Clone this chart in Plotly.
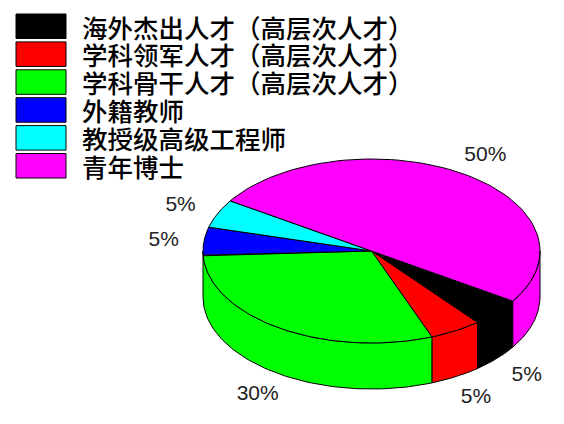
import numpy as np
import plotly.graph_objects as go

categories = ["海外杰出人才（高层次人才）", "学科领军人才（高层次人才）", "学科骨干人才（高层次人才）",
              "外籍教师", "教授级高级工程师", "青年博士"]
values = [5, 5, 30, 5, 5, 50]
colors = ["#000000", "#ff0000", "#00ff00", "#0000ff", "#00ffff", "#ff00ff"]

# pie geometry, axes run in window pixels
cx, cy = 371.5, 251
rx, ry = 168.5, 92
depth = 46
start = -33  # degrees, slices go clockwise
pad = 8  # page body margin

fig = go.Figure()


def arc(a0, a1):
    t = np.radians(np.linspace(a0, a1, 80))
    return cx + rx * np.cos(t), cy - ry * np.sin(t)


edges = start - np.cumsum([0] + values) * 3.6

# side walls first, only the front half shows (last slice wraps round past -360)
# the 3 degree sliver of blue at the far left is not drawn, green runs to the edge
for i in range(len(values)):
    for shift in (0, 360):
        a0 = min(max(edges[i] + shift, -180), 0)
        a1 = min(max(edges[i + 1] + shift, -180), 0)
        if a1 - a0 > -4:
            continue
        if a0 > -180 and edges[i + 1] + shift > -180 and edges[i + 1] + shift < -176:
            a1 = -180
        x, y = arc(a0, a1)
        fig.add_trace(go.Scatter(x=np.r_[x, x[::-1], x[0]], y=np.r_[y, y[::-1] + depth, y[0]],
                                 mode="lines", fill="toself", fillcolor=colors[i],
                                 line=dict(color="black", width=1)))

# top of the pie
for i in range(len(values)):
    x, y = arc(edges[i], edges[i + 1])
    fig.add_trace(go.Scatter(x=np.r_[cx, x, cx], y=np.r_[cy, y, cy],
                             mode="lines", fill="toself", fillcolor=colors[i],
                             line=dict(color="black", width=1)))

# percent labels
mid = np.radians((edges[:-1] + edges[1:]) / 2)
lx = cx + 1.24 * rx * np.cos(mid)
ly = cy + 1.5 - 1.25 * ry * np.sin(mid) + np.where(np.sin(mid) < -0.5, depth, 0)
fig.add_trace(go.Scatter(x=lx, y=ly, mode="text", text=[str(v) + "%" for v in values],
                         textposition="middle center",
                         textfont=dict(family="Liberation Sans", size=21, color="#222222")))

# legend block
shapes = []
annotations = []
for i, name in enumerate(categories):
    top = 14 + i * 27.9
    shapes.append(dict(type="rect", xref="x", yref="y", x0=16, x1=66, y0=top, y1=top + 24.5,
                       fillcolor=colors[i], line=dict(color="black", width=1)))
    annotations.append(dict(x=80, y=top + 12, xref="x", yref="y", text=name, showarrow=False,
                            xanchor="left", yanchor="middle",
                            font=dict(family="Noto Sans CJK SC Medium, Noto Sans CJK SC",
                                      size=25.5, color="#000000")))

fig.update_layout(width=564 - 2 * pad, height=424 - 2 * pad, margin=dict(l=0, r=0, t=0, b=0),
                  showlegend=False, plot_bgcolor="white", paper_bgcolor="white",
                  shapes=shapes, annotations=annotations,
                  xaxis=dict(range=[pad, 564 - pad], visible=False),
                  yaxis=dict(range=[424 - pad, pad], visible=False))

fig.write_html("out.html")
